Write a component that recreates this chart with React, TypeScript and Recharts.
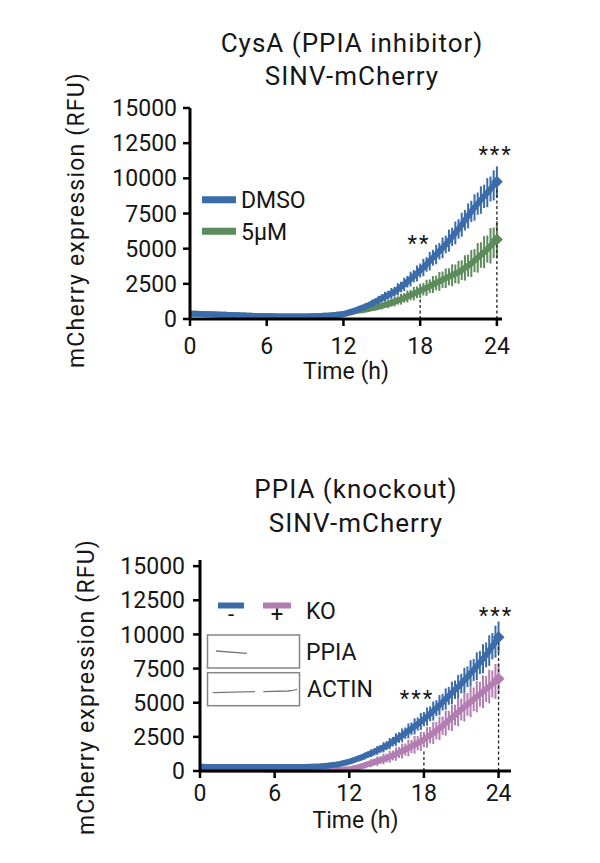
import React from 'react';
import { LineChart, Line, XAxis, YAxis, ErrorBar, ReferenceLine, ReferenceDot, Legend } from 'recharts';

// Time points (h), every 15 min
const hours = [
  0, 0.25, 0.5, 0.75, 1, 1.25, 1.5, 1.75, 2, 2.25, 2.5, 2.75, 3, 3.25, 3.5, 3.75,
  4, 4.25, 4.5, 4.75, 5, 5.25, 5.5, 5.75, 6, 6.25, 6.5, 6.75, 7, 7.25, 7.5, 7.75,
  8, 8.25, 8.5, 8.75, 9, 9.25, 9.5, 9.75, 10, 10.25, 10.5, 10.75, 11, 11.25, 11.5, 11.75,
  12, 12.25, 12.5, 12.75, 13, 13.25, 13.5, 13.75, 14, 14.25, 14.5, 14.75, 15, 15.25, 15.5, 15.75,
  16, 16.25, 16.5, 16.75, 17, 17.25, 17.5, 17.75, 18, 18.25, 18.5, 18.75, 19, 19.25, 19.5, 19.75,
  20, 20.25, 20.5, 20.75, 21, 21.25, 21.5, 21.75, 22, 22.25, 22.5, 22.75, 23, 23.25, 23.5, 23.75,
  24,
];

// Top panel: CysA (PPIA inhibitor)
const dmsoMean = [
  380, 375, 370, 362, 352, 345, 338, 330, 320, 312, 303, 295, 285, 276, 268, 260,
  252, 244, 236, 228, 220, 214, 208, 202, 196, 192, 188, 184, 180, 178, 176, 175,
  174, 174, 175, 177, 180, 184, 189, 195, 202, 212, 224, 238, 255, 275, 298, 323,
  350, 415, 490, 565, 640, 720, 805, 900, 1000, 1110, 1225, 1345, 1470, 1585, 1700, 1820,
  1940, 2110, 2280, 2460, 2650, 2840, 3040, 3240, 3450, 3660, 3880, 4110, 4350, 4580, 4820, 5060,
  5300, 5570, 5840, 6120, 6400, 6700, 7020, 7330, 7650, 7930, 8200, 8460, 8720, 8980, 9240, 9500,
  9750,
];
const dmsoSd = [
  40, 38, 36, 35, 33, 32, 31, 30, 30, 29, 28, 27, 26, 25, 25, 24,
  24, 23, 22, 22, 21, 21, 20, 20, 20, 20, 20, 20, 20, 20, 20, 20,
  20, 20, 20, 20, 21, 22, 23, 24, 25, 27, 30, 33, 36, 40, 45, 50,
  80, 100, 110, 130, 145, 175, 180, 215, 220, 265, 245, 305, 285, 345, 310, 385,
  350, 435, 375, 475, 415, 525, 440, 565, 495, 620, 520, 655, 560, 695, 585, 735,
  625, 785, 650, 810, 690, 850, 730, 890, 755, 940, 795, 980, 830, 1030, 885, 1070,
  1100,
];
const cysaMean = [
  378, 372, 366, 360, 350, 343, 336, 328, 318, 310, 302, 294, 284, 275, 267, 259,
  251, 243, 235, 227, 219, 213, 207, 201, 195, 191, 187, 183, 179, 177, 175, 174,
  173, 173, 174, 176, 179, 183, 188, 194, 201, 211, 223, 237, 254, 274, 296, 321,
  348, 405, 460, 510, 560, 600, 640, 680, 720, 770, 820, 875, 930, 1000, 1070, 1150,
  1230, 1320, 1410, 1500, 1600, 1700, 1800, 1900, 2000, 2110, 2220, 2330, 2450, 2560, 2670, 2790,
  2900, 3000, 3110, 3210, 3320, 3470, 3630, 3790, 3950, 4150, 4350, 4550, 4750, 4970, 5200, 5420,
  5650,
];
const cysaSd = [
  40, 38, 36, 35, 33, 32, 31, 30, 30, 29, 28, 27, 26, 25, 25, 24,
  24, 23, 22, 22, 21, 21, 20, 20, 20, 20, 20, 20, 20, 20, 20, 20,
  20, 20, 20, 20, 21, 22, 23, 24, 25, 27, 30, 33, 36, 40, 45, 50,
  65, 80, 95, 90, 120, 115, 155, 140, 180, 160, 215, 200, 250, 220, 300, 270,
  335, 295, 385, 340, 420, 365, 480, 415, 505, 440, 565, 485, 600, 520, 670, 580,
  695, 605, 780, 665, 815, 700, 900, 775, 960, 820, 1055, 905, 1140, 965, 1260, 1085,
  1300,
];

// Bottom panel: PPIA knockout
const wtMean = [
  310, 305, 300, 300, 298, 296, 295, 295, 294, 293, 292, 292, 291, 290, 290, 290,
  290, 290, 290, 290, 290, 290, 290, 290, 290, 290, 291, 292, 293, 294, 295, 296,
  298, 300, 302, 305, 310, 322, 336, 352, 370, 392, 418, 447, 480, 525, 575, 625,
  680, 760, 840, 920, 1000, 1100, 1200, 1300, 1400, 1510, 1620, 1735, 1850, 2000, 2150, 2300,
  2450, 2610, 2770, 2935, 3100, 3270, 3440, 3620, 3800, 3990, 4190, 4390, 4600, 4820, 5040, 5270,
  5500, 5720, 5950, 6170, 6400, 6650, 6900, 7150, 7400, 7670, 7950, 8220, 8500, 8820, 9140, 9470,
  9800,
];
const wtSd = [
  30, 30, 29, 29, 28, 28, 27, 27, 26, 26, 25, 25, 25, 25, 25, 25,
  25, 25, 25, 25, 25, 25, 25, 25, 25, 25, 25, 25, 25, 26, 27, 28,
  29, 30, 31, 32, 33, 35, 37, 40, 43, 47, 52, 58, 65, 72, 80, 90,
  130, 165, 155, 195, 195, 240, 220, 280, 260, 325, 285, 370, 325, 415, 350, 460,
  390, 505, 415, 545, 455, 585, 480, 625, 520, 665, 545, 700, 585, 740, 610, 780,
  650, 820, 675, 860, 715, 910, 755, 960, 805, 1015, 845, 1065, 910, 1120, 960, 1170,
  1150,
];
const koMean = [
  120, 120, 119, 118, 117, 116, 115, 114, 113, 112, 111, 110, 110, 109, 108, 107,
  106, 105, 104, 103, 102, 101, 100, 100, 99, 98, 97, 96, 95, 94, 93, 92,
  91, 90, 90, 90, 90, 90, 90, 90, 90, 90, 91, 92, 94, 97, 101, 106,
  120, 170, 230, 290, 350, 420, 500, 570, 650, 720, 800, 875, 950, 1040, 1140, 1240,
  1350, 1460, 1570, 1680, 1800, 1920, 2040, 2170, 2300, 2460, 2620, 2780, 2950, 3130, 3310, 3500,
  3700, 3900, 4100, 4300, 4500, 4690, 4880, 5060, 5250, 5440, 5620, 5810, 6000, 6190, 6370, 6560,
  6750,
];
const koSd = [
  30, 30, 29, 29, 28, 28, 27, 27, 26, 26, 25, 25, 25, 25, 25, 25,
  25, 25, 25, 25, 25, 25, 25, 25, 25, 25, 25, 25, 25, 25, 25, 25,
  25, 25, 25, 25, 26, 27, 28, 29, 30, 32, 34, 36, 40, 45, 50, 55,
  90, 145, 115, 180, 170, 235, 195, 285, 245, 340, 275, 390, 325, 440, 365, 495,
  405, 545, 440, 600, 480, 650, 520, 700, 560, 755, 600, 805, 635, 860, 675, 910,
  715, 960, 755, 1015, 795, 1065, 830, 1120, 870, 1145, 910, 1195, 950, 1235, 990, 1275,
  1100,
];

const yTicks = [0, 2500, 5000, 7500, 10000, 12500, 15000];
const xTicks = [0, 6, 12, 18, 24];

const FONT = 'Roboto, "Open Sans", sans-serif';
const INK = '#161616';
const BLUE = '#3b6ca9';
const GREEN = '#5d8b5c';
const PINK = '#b27db0';

const topData = hours.map((t, i) => ({
  t,
  dmso: dmsoMean[i],
  dmsoErr: dmsoSd[i],
  cysa: cysaMean[i],
  cysaErr: cysaSd[i],
}));
const bottomData = hours.map((t, i) => ({
  t,
  wt: wtMean[i],
  wtErr: wtSd[i],
  ko: koMean[i],
  koErr: koSd[i],
}));

const tickStyle = { fill: INK, fontSize: 23, fontFamily: FONT };
const axisLine = { stroke: '#000', strokeWidth: 3 };
const tickLine = { stroke: '#000', strokeWidth: 2.5 };
const starLabel = (value: string) => ({
  value,
  position: 'center' as const,
  fill: INK,
  fontSize: 22,
  fontFamily: FONT,
  letterSpacing: 2,
});

// marker only on the final time point
const endMarker = (color: string) => (props: any) => {
  const { cx, cy, index } = props;
  if (index !== hours.length - 1 || cx == null || cy == null) return <g key={`d${index}`} />;
  return (
    <path
      key={`d${index}`}
      d={`M${cx - 6} ${cy} L${cx} ${cy - 6} L${cx + 6} ${cy} L${cx} ${cy + 6} Z`}
      fill={color}
      stroke="none"
    />
  );
};

const TopLegend = () => (
  <svg width={150} height={70} style={{ display: 'block' }}>
    <line x1={7} x2={41} y1={19.7} y2={19.7} stroke={BLUE} strokeWidth={7} />
    <text x={46} y={28.3} fill={INK} fontSize={23} fontFamily={FONT}>DMSO</text>
    <line x1={7} x2={41} y1={51.2} y2={51.2} stroke={GREEN} strokeWidth={7} />
    <text x={46} y={60} fill={INK} fontSize={23} fontFamily={FONT}>5µM</text>
  </svg>
);

const BottomLegend = () => (
  <svg width={180} height={125} style={{ display: 'block' }}>
    <line x1={18} x2={44} y1={15.5} y2={15.5} stroke={BLUE} strokeWidth={6} />
    <line x1={63} x2={91} y1={15.5} y2={15.5} stroke={PINK} strokeWidth={6} />
    <text x={31} y={32} textAnchor="middle" fill={INK} fontSize={22} fontFamily={FONT}>-</text>
    <text x={77} y={32} textAnchor="middle" fill={INK} fontSize={22} fontFamily={FONT}>+</text>
    <text x={106} y={29} fill={INK} fontSize={23} fontFamily={FONT}>KO</text>
    <rect x={7.5} y={45} width={92} height={33} fill="#fff" stroke="#858585" strokeWidth={1.5} />
    <rect x={7.5} y={82.7} width={92} height={33} fill="#fff" stroke="#858585" strokeWidth={1.5} />
    <path d="M16 61 L47 63.3" stroke="#777" strokeWidth={1.3} fill="none" />
    <path d="M12.7 102.7 L55 101.7" stroke="#777" strokeWidth={1.3} fill="none" />
    <path d="M63.3 101.7 L88 101 Q95 100.5 97 99" stroke="#777" strokeWidth={1.3} fill="none" />
    <text x={106} y={70} fill={INK} fontSize={23} fontFamily={FONT}>PPIA</text>
    <text x={107} y={107} fill={INK} fontSize={23} fontFamily={FONT}>ACTIN</text>
  </svg>
);

export default function App() {
  return (
    <div style={{ position: 'absolute', left: 0, top: 0, width: 600, height: 863, background: '#fff' }}>
      <div style={{ position: 'absolute', left: 0, top: 0 }}>
        <LineChart width={600} height={430} data={topData} margin={{ top: 108, right: 98, bottom: 81, left: 90 }}>
          <text x={352} y={52} textAnchor="middle" fill={INK} fontSize={26} fontFamily={FONT} letterSpacing={1}>CysA (PPIA inhibitor)</text>
          <text x={352} y={85} textAnchor="middle" fill={INK} fontSize={26} fontFamily={FONT} letterSpacing={1}>SINV-mCherry</text>
          <text x={0} y={0} transform="translate(84,220) rotate(-90)" textAnchor="middle" fill={INK} fontSize={23} fontFamily={FONT} letterSpacing={1.2}>mCherry expression (RFU)</text>
          <Legend
            layout="vertical"
            align="center"
            verticalAlign="middle"
            content={() => <TopLegend />}
            wrapperStyle={{ left: 195, top: 180, width: 150, height: 70 }}
          />
          <Line name="5µM" dataKey="cysa" type="linear" stroke={GREEN} strokeWidth={6} dot={endMarker(GREEN)} isAnimationActive={false}>
            <ErrorBar dataKey="cysaErr" direction="y" width={0} stroke={GREEN} strokeWidth={2} isAnimationActive={false} />
          </Line>
          <Line name="DMSO" dataKey="dmso" type="linear" stroke={BLUE} strokeWidth={6} dot={endMarker(BLUE)} isAnimationActive={false}>
            <ErrorBar dataKey="dmsoErr" direction="y" width={0} stroke={BLUE} strokeWidth={2} isAnimationActive={false} />
          </Line>
          <ReferenceLine segment={[{ x: 18, y: 0 }, { x: 18, y: 1500 }]} stroke="#222" strokeWidth={1.3} strokeDasharray="3 2.5" />
          <ReferenceLine segment={[{ x: 24, y: 0 }, { x: 24, y: 9700 }]} stroke="#222" strokeWidth={1.3} strokeDasharray="3 2.5" />
          <ReferenceDot x={17.9} y={5375} r={0} fill="none" stroke="none" label={starLabel('**')} />
          <ReferenceDot x={23.9} y={11700} r={0} fill="none" stroke="none" label={starLabel('***')} />
          <XAxis
            dataKey="t"
            type="number"
            domain={[0, 24.4]}
            ticks={xTicks}
            interval={0}
            height={30}
            tickSize={7}
            tickMargin={12}
            axisLine={axisLine}
            tickLine={tickLine}
            tick={tickStyle}
            label={{ value: 'Time (h)', position: 'bottom', offset: 14, fill: INK, fontSize: 23, fontFamily: FONT }}
          />
          <YAxis
            type="number"
            domain={[0, 15000]}
            ticks={yTicks}
            interval={0}
            width={100}
            tickSize={7}
            tickMargin={6}
            axisLine={axisLine}
            tickLine={tickLine}
            tick={tickStyle}
          />
        </LineChart>
      </div>
      <div style={{ position: 'absolute', left: 0, top: 430 }}>
        <LineChart width={600} height={433} data={bottomData} margin={{ top: 130, right: 89, bottom: 62, left: 100 }}>
          <text x={356} y={68} textAnchor="middle" fill={INK} fontSize={26} fontFamily={FONT} letterSpacing={1}>PPIA (knockout)</text>
          <text x={356} y={102} textAnchor="middle" fill={INK} fontSize={26} fontFamily={FONT} letterSpacing={1}>SINV-mCherry</text>
          <text x={0} y={0} transform="translate(94,257) rotate(-90)" textAnchor="middle" fill={INK} fontSize={23} fontFamily={FONT} letterSpacing={1.2}>mCherry expression (RFU)</text>
          <Legend
            layout="vertical"
            align="center"
            verticalAlign="middle"
            content={() => <BottomLegend />}
            wrapperStyle={{ left: 200, top: 160, width: 180, height: 125 }}
          />
          <Line name="KO +" dataKey="ko" type="linear" stroke={PINK} strokeWidth={6} dot={endMarker(PINK)} isAnimationActive={false}>
            <ErrorBar dataKey="koErr" direction="y" width={0} stroke={PINK} strokeWidth={2} isAnimationActive={false} />
          </Line>
          <Line name="KO -" dataKey="wt" type="linear" stroke={BLUE} strokeWidth={6} dot={endMarker(BLUE)} isAnimationActive={false}>
            <ErrorBar dataKey="wtErr" direction="y" width={0} stroke={BLUE} strokeWidth={2} isAnimationActive={false} />
          </Line>
          <ReferenceLine segment={[{ x: 18, y: 0 }, { x: 18, y: 1500 }]} stroke="#222" strokeWidth={1.3} strokeDasharray="3 2.5" />
          <ReferenceLine segment={[{ x: 24, y: 0 }, { x: 24, y: 9600 }]} stroke="#222" strokeWidth={1.3} strokeDasharray="3 2.5" />
          <ReferenceDot x={17.45} y={5340} r={0} fill="none" stroke="none" label={starLabel('***')} />
          <ReferenceDot x={23.8} y={11445} r={0} fill="none" stroke="none" label={starLabel('***')} />
          <XAxis
            dataKey="t"
            type="number"
            domain={[0, 25]}
            ticks={xTicks}
            interval={0}
            height={30}
            tickSize={7}
            tickMargin={7}
            axisLine={axisLine}
            tickLine={tickLine}
            tick={tickStyle}
            label={{ value: 'Time (h)', position: 'bottom', offset: 10.7, fill: INK, fontSize: 23, fontFamily: FONT }}
          />
          <YAxis
            type="number"
            domain={[0, 15450]}
            ticks={yTicks}
            interval={0}
            width={100}
            tickSize={7}
            tickMargin={8}
            axisLine={axisLine}
            tickLine={tickLine}
            tick={tickStyle}
          />
        </LineChart>
      </div>
    </div>
  );
}
